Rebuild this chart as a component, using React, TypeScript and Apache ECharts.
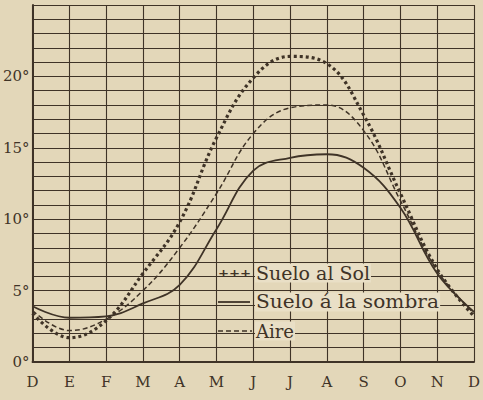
import React, { useEffect, useRef } from "react";
import * as echarts from "echarts";

const months = ["D", "E", "F", "M", "A", "M", "J", "J", "A", "S", "O", "N", "D"];
const sueloSol = [3.4, 1.7, 2.9, 6.2, 9.8, 15.7, 19.9, 21.4, 20.9, 17.3, 11.8, 6.5, 3.2];
const aire = [3.6, 2.2, 3.0, 5.0, 8.0, 11.8, 16.0, 17.8, 18.0, 16.2, 11.3, 6.4, 3.4];
const sueloSombra = [3.9, 3.1, 3.2, 4.1, 5.4, 9.3, 13.4, 14.3, 14.55, 13.6, 10.8, 6.2, 3.5];
const yTickValues = [0, 5, 10, 15, 20];
const yTickLabels = ["0°", "5°", "10°", "15°", "20°"];
const seriesNames = ["Suelo al Sol", "Suelo á la sombra", "Aire"];

const INK = "#3f3327";
const PAPER = "#e3d7b9";
const LIGHT = "#e9dfc6";
const FONT = "DejaVu Serif";

export default function App() {
  const ref = useRef<HTMLDivElement>(null);
  useEffect(() => {
    if (!ref.current) return;
    const chart = echarts.init(ref.current, undefined, { renderer: "svg" });
    const legendRows = [273, 302, 331];
    const textStyle = (t: string, y: number, sx: number) => ({
      type: "text",
      x: 255,
      y,
      scaleX: sx,
      style: {
        text: t,
        fill: INK,
        font: `19px "${FONT}"`,
        textVerticalAlign: "middle",
        backgroundColor: LIGHT,
        padding: [0, 1],
      },
      z: 10,
    });
    chart.setOption({
      animation: false,
      backgroundColor: PAPER,
      grid: { left: 30, right: 5, top: 5, bottom: 38 },
      xAxis: {
        type: "category",
        data: months,
        boundaryGap: false,
        axisLine: { lineStyle: { color: INK, width: 2 } },
        axisTick: { show: false },
        axisLabel: { color: INK, fontFamily: FONT, fontSize: 15, margin: 12 },
        splitLine: { show: true, lineStyle: { color: INK, width: 1.1 } },
      },
      yAxis: {
        type: "value",
        min: 0,
        max: 25,
        interval: 1,
        axisLine: { show: true, lineStyle: { color: INK, width: 2 } },
        axisTick: { show: false },
        axisLabel: {
          color: INK,
          fontFamily: FONT,
          fontSize: 15,
          margin: 3,
          formatter: (v: number) => {
            const i = yTickValues.indexOf(v);
            return i >= 0 ? yTickLabels[i] : "";
          },
        },
        splitLine: { show: true, lineStyle: { color: INK, width: 1.1 } },
      },
      graphic: [
        {
          type: "text",
          x: 218,
          y: legendRows[0],
          z: 10,
          style: {
            text: "+++",
            fill: INK,
            font: `bold 11px "${FONT}"`,
            textVerticalAlign: "middle",
          },
          scaleX: 1.2,
        },
        {
          type: "line",
          z: 10,
          shape: { x1: 218, y1: legendRows[1], x2: 250, y2: legendRows[1] },
          style: { stroke: INK, lineWidth: 1.8 },
        },
        {
          type: "line",
          z: 10,
          shape: { x1: 218, y1: legendRows[2], x2: 252, y2: legendRows[2] },
          style: { stroke: INK, lineWidth: 1.5, lineDash: [5, 3] },
        },
        textStyle(seriesNames[0], legendRows[0], 1.0),
        textStyle(seriesNames[1], legendRows[1], 1.06),
        textStyle(seriesNames[2], legendRows[2], 0.95),
      ],
      series: [
        {
          name: seriesNames[0],
          type: "line",
          data: sueloSol,
          smooth: 0.4,
          symbol: "none",
          lineStyle: { color: INK, width: 3.2, type: [3, 3] },
        },
        {
          name: seriesNames[1],
          type: "line",
          data: sueloSombra,
          smooth: 0.4,
          symbol: "none",
          lineStyle: { color: INK, width: 1.8, type: "solid" },
        },
        {
          name: seriesNames[2],
          type: "line",
          data: aire,
          smooth: 0.4,
          symbol: "none",
          lineStyle: { color: INK, width: 1.5, type: [5, 3] },
        },
      ],
    });
    return () => chart.dispose();
  }, []);
  return (
    <div
      ref={ref}
      style={{ position: "fixed", left: 0, top: 0, width: 483, height: 400 }}
    />
  );
}
